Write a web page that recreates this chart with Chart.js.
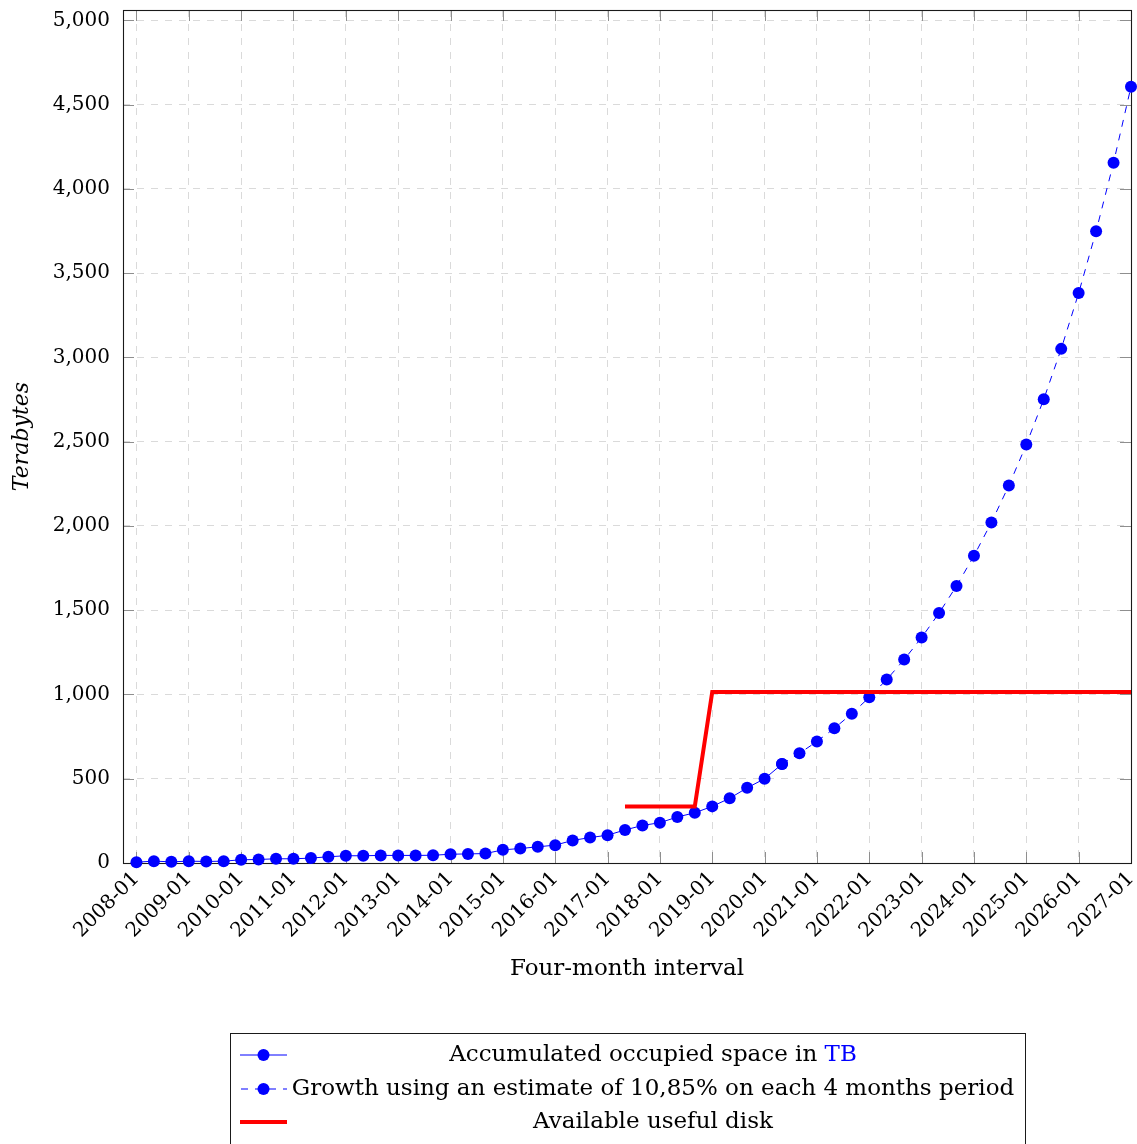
<!DOCTYPE html>
<html>
<head>
<meta charset="utf-8">
<title>Accumulated occupied space</title>
<script src="https://cdn.jsdelivr.net/npm/chart.js@4.4.1/dist/chart.umd.min.js"></script>
<style>
  html, body { margin: 0; padding: 0; background: #ffffff; }
  #wrap { position: relative; width: 1137px; height: 1144px; }
</style>
</head>
<body>
<div id="wrap"><canvas id="chart" width="1137" height="1144"></canvas></div>
<script>
// Four-month periods on the x axis
const periods = [
  '2008-01','2008-05','2008-09','2009-01','2009-05','2009-09','2010-01','2010-05','2010-09',
  '2011-01','2011-05','2011-09','2012-01','2012-05','2012-09','2013-01','2013-05','2013-09',
  '2014-01','2014-05','2014-09','2015-01','2015-05','2015-09','2016-01','2016-05','2016-09',
  '2017-01','2017-05','2017-09','2018-01','2018-05','2018-09','2019-01','2019-05','2019-09',
  '2020-01','2020-05','2020-09','2021-01','2021-05','2021-09','2022-01','2022-05','2022-09',
  '2023-01','2023-05','2023-09','2024-01','2024-05','2024-09','2025-01','2025-05','2025-09',
  '2026-01','2026-05','2026-09','2027-01'
];

// Labelled ticks: January of each year
const yearTicks = [
  '2008-01','2009-01','2010-01','2011-01','2012-01','2013-01','2014-01','2015-01','2016-01','2017-01',
  '2018-01','2019-01','2020-01','2021-01','2022-01','2023-01','2024-01','2025-01','2026-01','2027-01'
];

// Terabyte ticks
const tbTicks = [0, 500, 1000, 1500, 2000, 2500, 3000, 3500, 4000, 4500, 5000];

// Measured occupied space, 2008-01 .. 2020-05 (TB)
const occupied = [
  5, 11, 7, 11, 9, 11, 19, 21, 25, 25, 29, 37, 43, 43, 45, 45, 45, 46, 52, 54,
  56, 78, 86, 96, 106, 134, 151, 165, 196, 223, 239, 273, 298, 336, 384, 446,
  500, 587
];

// Projected growth, 2020-05 .. 2027-01 (TB)
const estimateStart = '2020-05';
const estimate = [
  587, 651, 721, 800, 886, 983, 1089, 1207, 1338, 1483, 1644, 1823, 2021, 2240,
  2483, 2752, 3051, 3382, 3749, 4156, 4607
];

// Usable disk capacity (TB)
const diskPeriods = ['2017-05', '2018-09', '2019-01', '2027-01'];
const diskValues = [335, 335, 1015, 1015];

const seriesNames = [
  'Accumulated occupied space in TB',
  'Growth using an estimate of 10,85% on each 4 months period',
  'Available useful disk'
];

const FONT = "'DejaVu Serif', serif";
const BLUE = '#0000ff';
const RED = '#ff0000';
const MARK = 6;

const idx = p => periods.indexOf(p);
const startIdx = idx(estimateStart);

// keep the plot box where it is set, without extra room for edge labels
const noEdgePadding = s => {
  s.paddingLeft = 0; s.paddingRight = 0; s.paddingTop = 0; s.paddingBottom = 0;
};

// Axis frame and inward tick marks (drawn under the markers)
const framePlugin = {
  id: 'frame',
  beforeDatasetsDraw(chart) {
    const { ctx, chartArea: a, scales: { x, y } } = chart;
    const len = 11;
    ctx.save();
    ctx.strokeStyle = '#8f8f8f';
    ctx.lineWidth = 1;
    ctx.beginPath();
    x.ticks.forEach(t => {
      const px = Math.round(x.getPixelForValue(t.value)) + 0.5;
      ctx.moveTo(px, a.bottom); ctx.lineTo(px, a.bottom - len);
      ctx.moveTo(px, a.top); ctx.lineTo(px, a.top + len);
    });
    y.ticks.forEach(t => {
      const py = Math.round(y.getPixelForValue(t.value)) + 0.5;
      ctx.moveTo(a.left, py); ctx.lineTo(a.left + len, py);
      ctx.moveTo(a.right, py); ctx.lineTo(a.right - len, py);
    });
    ctx.stroke();
    ctx.strokeStyle = '#1a1a1a';
    ctx.lineWidth = 1.1;
    ctx.strokeRect(Math.round(a.left) + 0.5, Math.round(a.top) + 0.5,
                   Math.round(a.right - a.left), Math.round(a.bottom - a.top));
    ctx.restore();
  }
};

// Boxed legend under the axis title
const legendPlugin = {
  id: 'boxLegend',
  afterDraw(chart) {
    const { ctx } = chart;
    const left = 230.5, right = 1025.5, top = 1033.5;
    const rows = [1055, 1089, 1122];
    const s0 = 240, s1 = 287, sm = 263.5;
    const textCenter = 653;
    ctx.save();
    ctx.strokeStyle = '#1a1a1a';
    ctx.lineWidth = 1;
    ctx.strokeRect(left, top, right - left, 200);

    // sample: solid line with marker
    ctx.strokeStyle = BLUE; ctx.lineWidth = 1;
    ctx.beginPath(); ctx.moveTo(s0, rows[0]); ctx.lineTo(s1, rows[0]); ctx.stroke();
    ctx.fillStyle = BLUE;
    ctx.beginPath(); ctx.arc(sm, rows[0], MARK, 0, Math.PI * 2); ctx.fill();

    // sample: dashed line with marker
    ctx.setLineDash([7, 7]); ctx.lineDashOffset = -1;
    ctx.beginPath(); ctx.moveTo(s0, rows[1]); ctx.lineTo(s1, rows[1]); ctx.stroke();
    ctx.setLineDash([]);
    ctx.beginPath(); ctx.arc(sm, rows[1], MARK, 0, Math.PI * 2); ctx.fill();

    // sample: thick red line
    ctx.strokeStyle = RED; ctx.lineWidth = 4;
    ctx.beginPath(); ctx.moveTo(s0, rows[2]); ctx.lineTo(s1, rows[2]); ctx.stroke();

    ctx.font = '23px ' + FONT;
    ctx.textBaseline = 'middle';
    ctx.textAlign = 'left';
    // first entry: unit in blue
    const head = 'Accumulated occupied space in ';
    const unit = 'TB';
    const w0 = ctx.measureText(head).width, w1 = ctx.measureText(unit).width;
    const x0 = textCenter - (w0 + w1) / 2;
    ctx.fillStyle = '#000';
    ctx.fillText(head, x0, rows[0]);
    ctx.fillStyle = BLUE;
    ctx.fillText(unit, x0 + w0, rows[0]);
    ctx.fillStyle = '#000';
    ctx.textAlign = 'center';
    ctx.fillText(seriesNames[1], textCenter, rows[1]);
    ctx.fillText(seriesNames[2], textCenter, rows[2]);
    ctx.restore();
  }
};

new Chart(document.getElementById('chart'), {
  type: 'line',
  data: {
    datasets: [
      {
        label: seriesNames[0],
        data: occupied.map((v, i) => ({ x: i, y: v })),
        borderColor: BLUE, backgroundColor: BLUE, borderWidth: 1,
        pointRadius: MARK, pointHoverRadius: MARK, pointBorderWidth: 0,
        tension: 0, clip: false, order: 2
      },
      {
        label: seriesNames[1],
        data: estimate.map((v, i) => ({ x: startIdx + i, y: v })),
        borderColor: BLUE, backgroundColor: BLUE, borderWidth: 1, borderDash: [7, 7],
        pointRadius: MARK, pointHoverRadius: MARK, pointBorderWidth: 0,
        tension: 0, clip: false, order: 1
      },
      {
        label: seriesNames[2],
        data: diskValues.map((v, i) => ({ x: idx(diskPeriods[i]), y: v })),
        borderColor: RED, backgroundColor: RED, borderWidth: 4,
        pointRadius: 0, pointHoverRadius: 0, borderCapStyle: 'butt',
        tension: 0, clip: false, order: 0
      }
    ]
  },
  options: {
    responsive: false,
    animation: false,
    events: [],
    layout: { padding: { left: 0, top: 10, right: 5, bottom: 154 } },
    plugins: { legend: { display: false }, tooltip: { enabled: false } },
    scales: {
      x: {
        type: 'linear',
        min: -0.77,
        max: periods.length - 1,
        afterBuildTicks: s => { s.ticks = yearTicks.map(p => ({ value: idx(p) })); },
        afterFit: s => { s.height = 127; noEdgePadding(s); },
        ticks: {
          autoSkip: false, minRotation: 45, maxRotation: 45,
          callback: v => periods[v],
          font: { family: FONT, size: 20 }, color: '#000', padding: 4
        },
        grid: { color: '#dadada', lineWidth: 1, drawTicks: false },
        border: { display: false, dash: [7, 7] },
        title: {
          display: true, text: 'Four-month interval',
          font: { family: FONT, size: 23 }, color: '#000',
          padding: { top: 0, bottom: 7 }
        }
      },
      y: {
        type: 'linear',
        min: 0,
        max: 5062,
        afterBuildTicks: s => { s.ticks = tbTicks.map(v => ({ value: v })); },
        afterFit: s => { s.width = 123; noEdgePadding(s); },
        ticks: {
          callback: v => v.toLocaleString('en-US'),
          font: { family: FONT, size: 20 }, color: '#000', padding: 13
        },
        grid: { color: '#dadada', lineWidth: 1, drawTicks: false },
        border: { display: false, dash: [7, 7] },
        title: {
          display: true, text: 'Terabytes',
          font: { family: FONT, size: 22, style: 'italic' }, color: '#000',
          padding: { top: 9, bottom: 0 }
        }
      }
    }
  },
  plugins: [framePlugin, legendPlugin]
});
</script>
</body>
</html>
